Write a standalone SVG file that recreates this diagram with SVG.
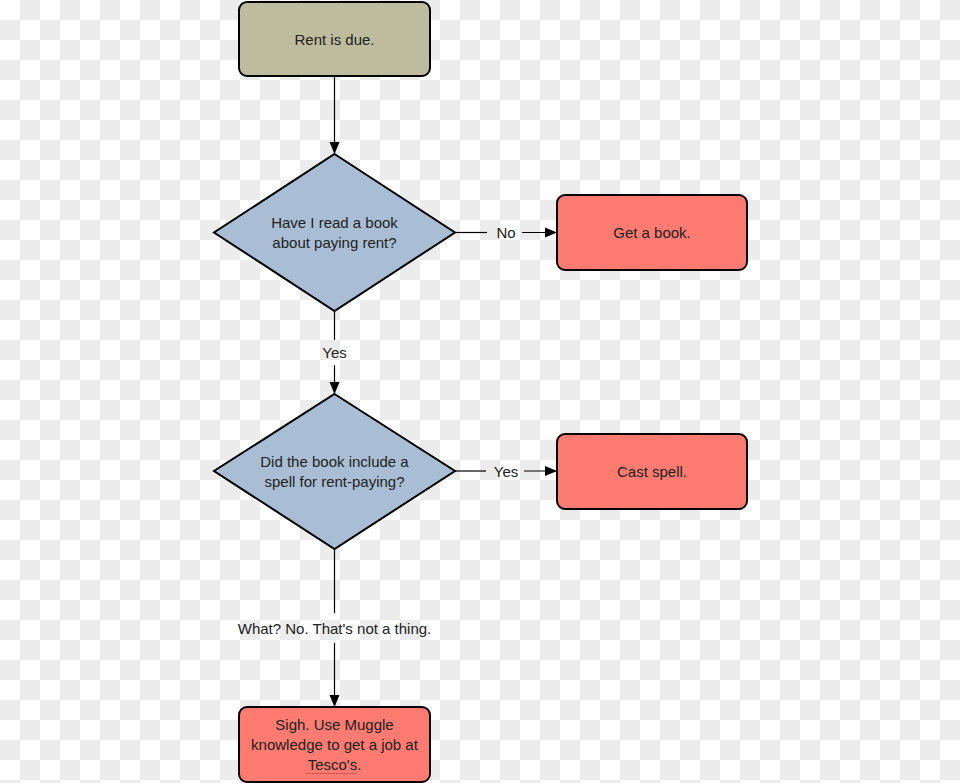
<svg xmlns="http://www.w3.org/2000/svg" width="960" height="783" viewBox="0 0 960 783">
<defs>
<pattern id="checker" x="0" y="0" width="40" height="40" patternUnits="userSpaceOnUse">
<rect width="40" height="40" fill="#ffffff"/>
<rect x="20" y="0" width="20" height="20" fill="#ececec"/>
<rect x="0" y="20" width="20" height="20" fill="#ececec"/>
</pattern>
<marker id="arrow" viewBox="0 0 12 10" refX="12" refY="5" markerWidth="12" markerHeight="11" markerUnits="userSpaceOnUse" orient="auto">
<path d="M0,0 L12,5 L0,10 Z" fill="#000"/>
</marker>
</defs>
<style>
.node { stroke: #000; stroke-width: 2; }
.start { fill: #bdbc9f; }
.decision { fill: #a9bed4; }
.action { fill: #fe7b71; }
.lbl { font-family: "Liberation Sans", Arial, sans-serif; font-size: 15px; fill: #222; text-anchor: middle; }
.edge { stroke: #000; stroke-width: 1.2; fill: none; }
</style>
<rect width="960" height="783" fill="url(#checker)"/>
<g id="connectors">
<line class="edge" x1="334.5" y1="77" x2="334.5" y2="154" marker-end="url(#arrow)"/>
<line class="edge" x1="334.5" y1="311" x2="334.5" y2="340"/>
<text class="lbl" x="334.5" y="357.5">Yes</text>
<line class="edge" x1="334.5" y1="365" x2="334.5" y2="394" marker-end="url(#arrow)"/>
<line class="edge" x1="455" y1="232.5" x2="487" y2="232.5"/>
<text class="lbl" x="506" y="238">No</text>
<line class="edge" x1="522" y1="232.5" x2="557" y2="232.5" marker-end="url(#arrow)"/>
<line class="edge" x1="455" y1="471" x2="486" y2="471"/>
<text class="lbl" x="506" y="476.5">Yes</text>
<line class="edge" x1="524" y1="471" x2="557" y2="471" marker-end="url(#arrow)"/>
<line class="edge" x1="334.5" y1="549" x2="334.5" y2="613"/>
<text class="lbl" x="334.5" y="634">What? No. That's not a thing.</text>
<line class="edge" x1="334.5" y1="643" x2="334.5" y2="707" marker-end="url(#arrow)"/>
</g>
<g id="rent-due">
<rect class="node start" x="239" y="2" width="191" height="74" rx="8"/>
<text class="lbl" x="334.5" y="45">Rent is due.</text>
</g>
<g id="read-book">
<polygon class="node decision" points="334.5,154 455,232.5 334.5,311 214,232.5"/>
<text class="lbl" x="334.5" y="228">Have I read a book</text>
<text class="lbl" x="334.5" y="248">about paying rent?</text>
</g>
<g id="get-book">
<rect class="node action" x="557" y="195" width="190" height="75" rx="8"/>
<text class="lbl" x="652" y="238">Get a book.</text>
</g>
<g id="spell">
<polygon class="node decision" points="334.5,394 455,471 334.5,549 214,471"/>
<text class="lbl" x="334.5" y="467">Did the book include a</text>
<text class="lbl" x="334.5" y="487">spell for rent-paying?</text>
</g>
<g id="cast-spell">
<rect class="node action" x="557" y="434" width="190" height="75" rx="8"/>
<text class="lbl" x="652" y="477">Cast spell.</text>
</g>
<g id="muggle">
<rect class="node action" x="239" y="707" width="191" height="75" rx="8"/>
<text class="lbl" x="334.5" y="730">Sigh. Use Muggle</text>
<text class="lbl" x="334.5" y="750">knowledge to get a job at</text>
<text class="lbl" x="334.5" y="770">Tesco's.</text>
<line x1="306" y1="773.5" x2="355" y2="773.5" stroke="#e03030" stroke-width="1" stroke-dasharray="1,1"/>
</g>
</svg>
